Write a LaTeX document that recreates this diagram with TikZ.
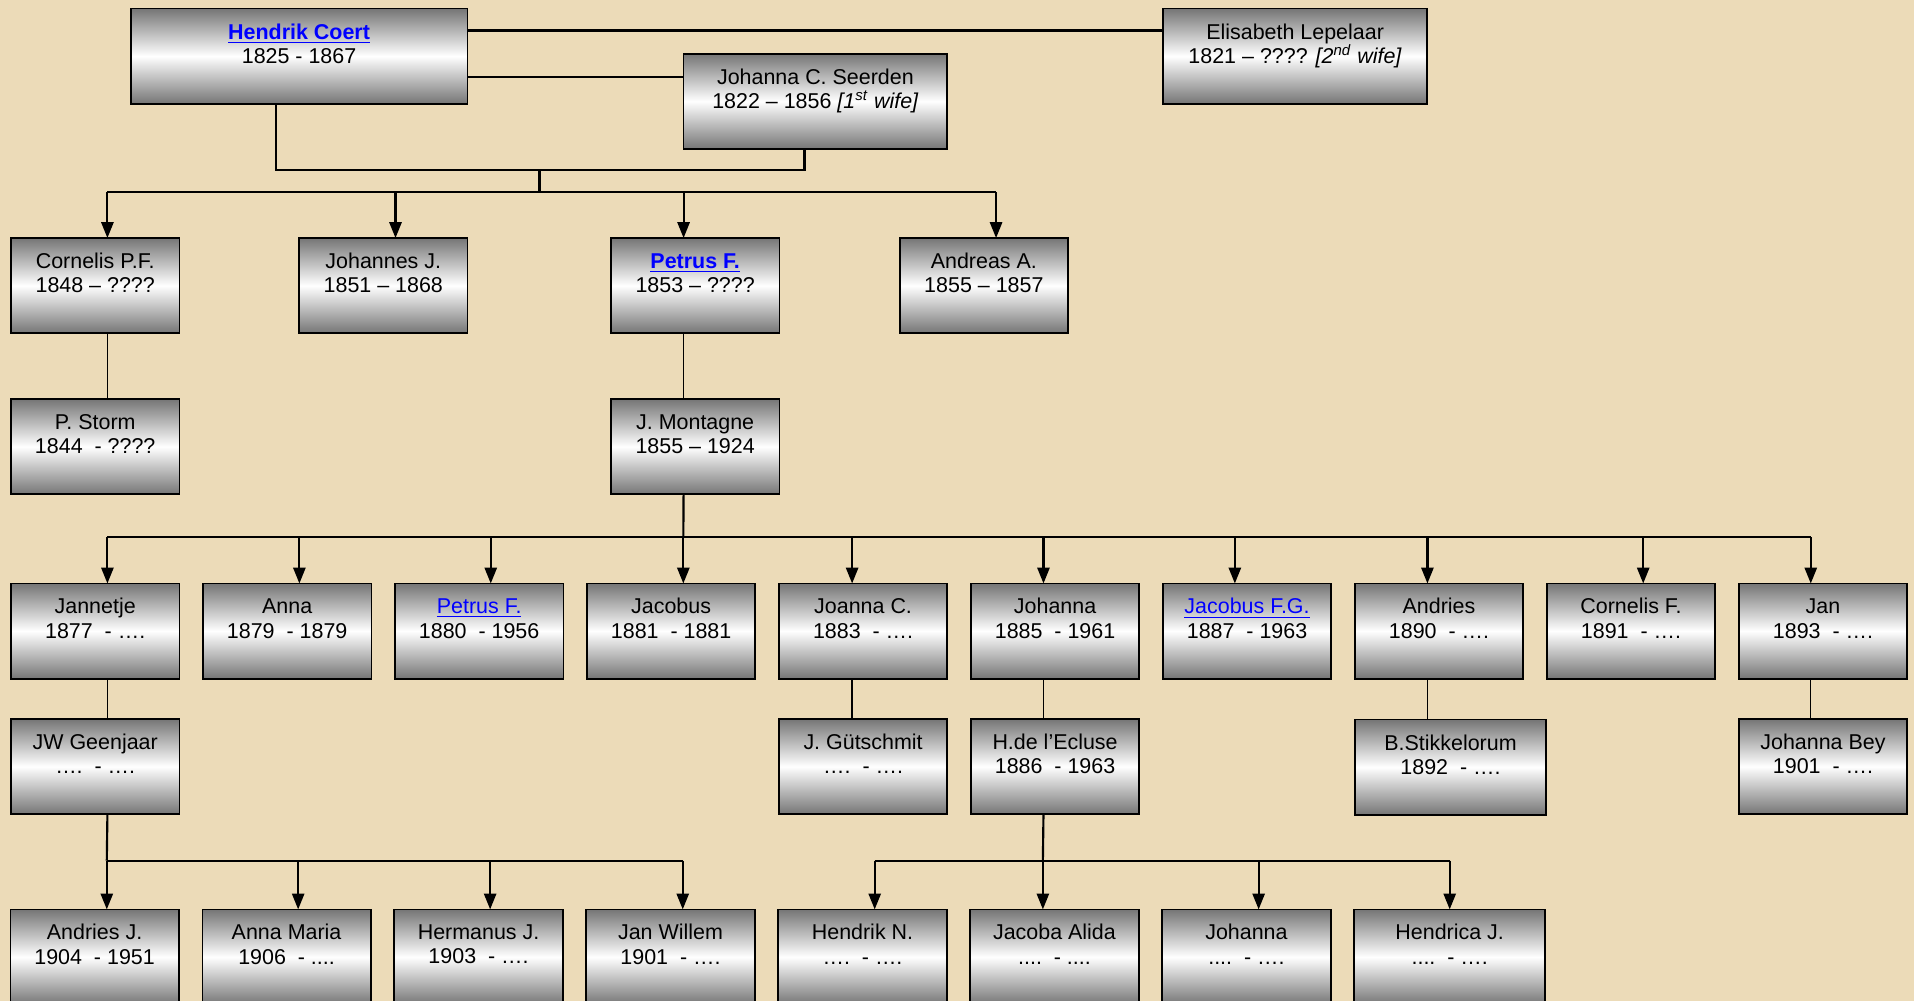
\documentclass[tikz,border=0pt]{standalone}
\usepackage{fontspec}
\setmainfont{Liberation Sans}
\usepackage{tikz}
\usetikzlibrary{arrows.meta}
\usetikzlibrary{positioning}

\tikzset{
  person/.style={draw=black,line width=0.8pt,top color=boxgray,bottom color=boxgray,middle color=white,
    minimum width=2.76cm,minimum height=1.56cm,inner sep=0pt,outer sep=0pt,align=center,
    font=\fontsize{10}{11.4}\selectfont},
  widebox/.style={minimum width=3.13cm},
  line/.style={line width=1pt},
  thinline/.style={line width=0.65pt},
  kidarrow/.style={line width=1pt,-{Triangle[length=0.26cm,width=0.2cm]}}
}

\begin{document}
\begin{tikzpicture}[x=0.02cm,y=-0.02cm]

		    \definecolor{paper}{rgb}{0.925,0.86,0.72}
		    \definecolor{boxgray}{rgb}{0.46,0.46,0.46}
		    \definecolor{linkblue}{rgb}{0,0,1}
		    \useasboundingbox (0,0) rectangle (1568,820);
		    \clip (0,0) rectangle (1568,820);
		    \fill[paper] (0,0) rectangle (1568,820);

		    % parents
		    \node(hendrik) [person,minimum width=5.52cm] at (245,46) {\textcolor{linkblue}{\underline{\textbf{Hendrik Coert}}}\\1825 - 1867\\[-3pt]\strut};
		    \node(seerden) [person,minimum width=4.32cm] at (668,83) {Johanna C. Seerden\\1822 – 1856 \textit{[1\textsuperscript{st} wife]}\\[-3pt]\strut};
		    \node(elisabeth) [person,minimum width=4.32cm] at (1061,46) {Elisabeth Lepelaar\\1821 – ???? \textit{[2\textsuperscript{nd} wife]}\\[-3pt]\strut};

		    % children
		    \node(cornelis) [person] at (78,234) {Cornelis P.F.\\1848 – ????\\[-3pt]\strut};
		    \node(johannes) [person] at (314,234) {Johannes J.\\1851 – 1868\\[-3pt]\strut};
		    \node(petrus) [person] at (569.5,234) {\textcolor{linkblue}{\underline{\textbf{Petrus F.}}}\\1853 – ????\\[-3pt]\strut};
		    \node(andreas) [person] at (806,234) {Andreas A.\\1855 – 1857\\[-3pt]\strut};

		    \node(storm) [person,below=1.08cm of cornelis] {P. Storm\\1844\ \ - ????\\[-3pt]\strut};
		    \node(montagne) [person,below=1.08cm of petrus] {J. Montagne\\1855 – 1924\\[-3pt]\strut};

		    % grandchildren
		    \node(jannetje) [person] at (78,517) {Jannetje\\1877\ \ - ….\\[-3pt]\strut};
		    \node(anna) [person,right=0.386cm of jannetje] {Anna\\1879\ \ - 1879\\[-3pt]\strut};
		    \node(petrusb) [person,right=0.386cm of anna] {\textcolor{linkblue}{\underline{Petrus F.}}\\1880\ \ - 1956\\[-3pt]\strut};
		    \node(jacobus) [person,right=0.386cm of petrusb] {Jacobus\\1881\ \ - 1881\\[-3pt]\strut};
		    \node(joanna) [person,right=0.386cm of jacobus] {Joanna C.\\1883\ \ - ….\\[-3pt]\strut};
		    \node(johanna) [person,right=0.386cm of joanna] {Johanna\\1885\ \ - 1961\\[-3pt]\strut};
		    \node(jacobusfg) [person,right=0.386cm of johanna] {\textcolor{linkblue}{\underline{Jacobus F.G.}}\\1887\ \ - 1963\\[-3pt]\strut};
		    \node(andries) [person,right=0.386cm of jacobusfg] {Andries\\1890\ \ - ….\\[-3pt]\strut};
		    \node(cornelisf) [person,right=0.386cm of andries] {Cornelis F.\\1891\ \ - ….\\[-3pt]\strut};
		    \node(jan) [person,right=0.386cm of cornelisf] {Jan\\1893\ \ - ….\\[-3pt]\strut};

		    \node(geenjaar) [person,below=0.66cm of jannetje] {JW Geenjaar\\….\ \ - ….\\[-3pt]\strut};
		    \node(gutschmit) [person,below=0.66cm of joanna] {J. Gütschmit\\….\ \ - ….\\[-3pt]\strut};
		    \node(ecluse) [person,below=0.66cm of johanna] {H.de l’Ecluse\\1886\ \ - 1963\\[-3pt]\strut};
		    \node(stikkelorum) [person,widebox] at (1188.3,628.5) {B.Stikkelorum\\1892\ \ - ….\\[-3pt]\strut};
		    \node(bey) [person,below=0.66cm of jan] {Johanna Bey\\1901\ \ - ….\\[-3pt]\strut};

		    % great-grandchildren
		    \node(andriesj) [person] at (77.5,784) {Andries J.\\1904\ \ - 1951\\[-3pt]\strut};
		    \node(annamaria) [person,right=0.386cm of andriesj] {Anna Maria\\1906\ \ - ....\\[-3pt]\strut};
		    \node(hermanus) [person,right=0.386cm of annamaria] {Hermanus J.\\1903\ \ - ….\\[-3pt]\strut};
		    \node(janwillem) [person,right=0.386cm of hermanus] {Jan Willem\\1901\ \ - ….\\[-3pt]\strut};
		    \node(hendrikn) [person,right=0.386cm of janwillem] {Hendrik N.\\….\ \ - ….\\[-3pt]\strut};
		    \node(jacoba) [person,right=0.386cm of hendrikn] {Jacoba Alida\\....\ \ - ....\\[-3pt]\strut};
		    \node(johannac) [person,right=0.386cm of jacoba] {Johanna\\....\ \ - ….\\[-3pt]\strut};
		    \node(hendrica) [person,widebox,right=0.386cm of johannac] {Hendrica J.\\....\ \ - ….\\[-3pt]\strut};

		    % marriages
		    \draw[line] ([yshift=0.42cm]hendrik.east) -- ([yshift=0.42cm]elisabeth.west);
		    \draw[line] ([yshift=-0.346cm]hendrik.east) -- ([yshift=-0.346cm]hendrik.east -| seerden.west);
		    \coordinate (join0) at (442,139.3);
		    \coordinate (bar1) at ([yshift=0.75cm]cornelis.north);
		    \draw[line] ([xshift=-0.38cm]hendrik.south) |- (join0) -| ([xshift=-0.18cm]seerden.south);
		    \draw[line] (join0) -- (join0 |- bar1);

		    % first generation
		    \draw[line] ([xshift=0.2cm,yshift=0.75cm]cornelis.north) -- ([xshift=0.2cm,yshift=0.75cm]andreas.north);
		    \foreach \kid/\dx in {cornelis/0.2,johannes/0.2,petrus/-0.19,andreas/0.2}
		      \draw[kidarrow] ([xshift=\dx cm,yshift=0.75cm]\kid.north) -- ([xshift=\dx cm]\kid.north);
		    \draw[thinline] ([xshift=0.2cm]cornelis.south) -- ([xshift=0.2cm]storm.north);
		    \draw[thinline] ([xshift=-0.19cm]petrus.south) -- ([xshift=-0.19cm]montagne.north);

		    % second generation
		    \draw[line] ([xshift=-0.19cm]montagne.south) -- ([xshift=0.2cm,yshift=0.76cm]jacobus.north);
		    \draw[line] ([xshift=0.2cm,yshift=0.76cm]jannetje.north) -- ([xshift=-0.2cm,yshift=0.76cm]jan.north);
		    \foreach \kid/\dx in {jannetje/0.2,anna/0.2,petrusb/0.19,jacobus/0.2,joanna/-0.18,johanna/-0.19,jacobusfg/-0.2,andries/-0.19,cornelisf/0.2,jan/-0.2}
		      \draw[kidarrow] ([xshift=\dx cm,yshift=0.76cm]\kid.north) -- ([xshift=\dx cm]\kid.north);
		    \foreach \kid/\wed/\dx in {jannetje/geenjaar/0.2,joanna/gutschmit/-0.18,johanna/ecluse/-0.19,jan/bey/-0.2}
		      \draw[thinline] ([xshift=\dx cm]\kid.south) -- ([xshift=\dx cm]\wed.north);
		    \draw[thinline] ([xshift=-0.19cm]andries.south) -- ++(0,-0.66cm);

		    % third generation
		    \draw[line] ([xshift=0.2cm]geenjaar.south) -- ([xshift=0.2cm,yshift=0.8cm]andriesj.north);
		    \draw[line] ([xshift=0.2cm,yshift=0.8cm]andriesj.north) -- ([xshift=0.2cm,yshift=0.8cm]janwillem.north);
		    \foreach \kid/\dx in {andriesj/0.2,annamaria/0.19,hermanus/0.19,janwillem/0.2}
		      \draw[kidarrow] ([xshift=\dx cm,yshift=0.8cm]\kid.north) -- ([xshift=\dx cm]\kid.north);
		    \draw[line] ([xshift=-0.19cm]ecluse.south) -- ([xshift=-0.19cm,yshift=0.8cm]jacoba.north);
		    \draw[line] ([xshift=0.2cm,yshift=0.8cm]hendrikn.north) -- ([yshift=0.8cm]hendrica.north);
		    \foreach \kid/\dx in {hendrikn/0.2,jacoba/-0.19,johannac/0.2,hendrica/0}
		      \draw[kidarrow] ([xshift=\dx cm,yshift=0.8cm]\kid.north) -- ([xshift=\dx cm]\kid.north);

\end{tikzpicture}
\end{document}
